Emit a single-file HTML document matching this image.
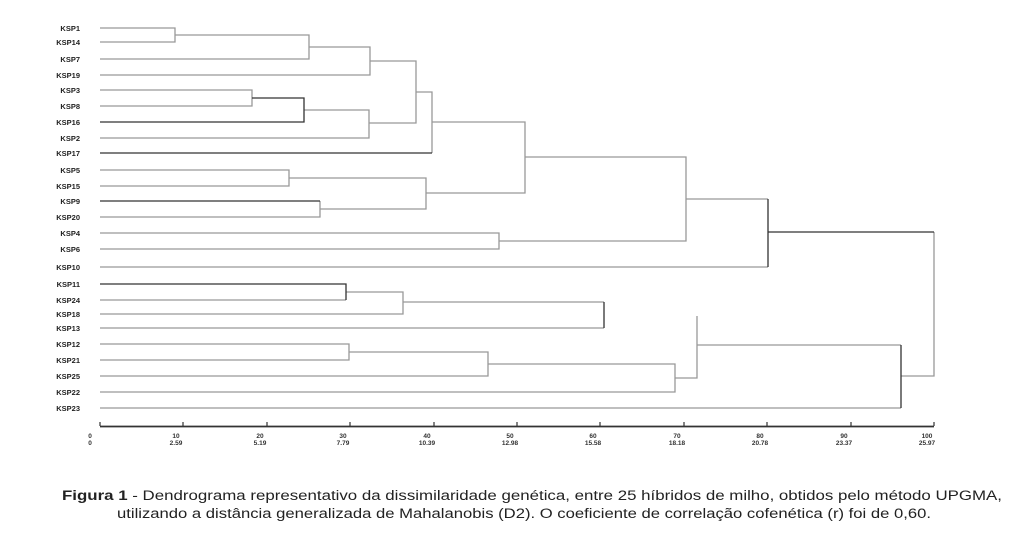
<!DOCTYPE html>
<html><head><meta charset="utf-8"><style>
html,body{margin:0;padding:0;background:#fff;}
svg{display:block}
</style></head><body>
<svg width="1020" height="537" viewBox="0 0 1020 537" xmlns="http://www.w3.org/2000/svg">
<g font-family="Liberation Sans, sans-serif" font-size="7.5" font-weight="bold" fill="#222" text-anchor="end">
<text x="80" y="31">KSP1</text>
<text x="80" y="45">KSP14</text>
<text x="80" y="62">KSP7</text>
<text x="80" y="78">KSP19</text>
<text x="80" y="93">KSP3</text>
<text x="80" y="109">KSP8</text>
<text x="80" y="125">KSP16</text>
<text x="80" y="141">KSP2</text>
<text x="80" y="156">KSP17</text>
<text x="80" y="173">KSP5</text>
<text x="80" y="189">KSP15</text>
<text x="80" y="204">KSP9</text>
<text x="80" y="220">KSP20</text>
<text x="80" y="236">KSP4</text>
<text x="80" y="252">KSP6</text>
<text x="80" y="270">KSP10</text>
<text x="80" y="287">KSP11</text>
<text x="80" y="303">KSP24</text>
<text x="80" y="317">KSP18</text>
<text x="80" y="331">KSP13</text>
<text x="80" y="347">KSP12</text>
<text x="80" y="363">KSP21</text>
<text x="80" y="379">KSP25</text>
<text x="80" y="395">KSP22</text>
<text x="80" y="411">KSP23</text>
</g>
<g stroke="#999" stroke-width="1.3" fill="none">
<path d="M100 28H175V42H100"/>
<path d="M175 35H309V59H100"/>
<path d="M309 47H370V75H100"/>
<path d="M100 90H252V106H100"/>
<path d="M304 110H369V138H100"/>
<path d="M370 61H416V123H369"/>
<path d="M416 92H432V153"/>
<path d="M100 170H289V186H100"/>
<path d="M320 201V217H100"/>
<path d="M289 178H426V209H320"/>
<path d="M432 122H525V193H426"/>
<path d="M100 233H499V249H100"/>
<path d="M525 157H686V241H499"/>
<path d="M686 199H768"/>
<path d="M768 267H100"/>
<path d="M934 232V376H901"/>
<path d="M346 300H100"/>
<path d="M346 292H403V314H100"/>
<path d="M403 302H604"/>
<path d="M604 328H100"/>
<path d="M100 344H349V360H100"/>
<path d="M349 352H488V376H100"/>
<path d="M488 364H675V392H100"/>
<path d="M675 378H697V316"/>
<path d="M697 345H901"/>
<path d="M901 408H100"/>
</g>
<g stroke="#333" stroke-width="1.3" fill="none">
<path d="M252 98H304V122H100"/>
<path d="M432 153H100"/>
<path d="M100 201H320"/>
<path d="M768 199V267"/>
<path d="M768 232H934"/>
<path d="M100 284H346V300"/>
<path d="M604 302V328"/>
<path d="M901 345V408"/>
</g>
<g stroke="#333" stroke-width="1.2"><path d="M100 426.5H934" stroke-width="1.8"/>
<path d="M100 422V426M183 422V426M267 422V426M350 422V426M434 422V426M517 422V426M600 422V426M684 422V426M767 422V426M851 422V426M934 422V426"/></g>
<g font-family="Liberation Sans, sans-serif" font-size="6.5" font-weight="bold" fill="#333" text-anchor="middle">
<text x="90" y="438">0</text><text x="90" y="445">0</text>
<text x="176" y="438">10</text><text x="176" y="445">2.59</text>
<text x="260" y="438">20</text><text x="260" y="445">5.19</text>
<text x="343" y="438">30</text><text x="343" y="445">7.79</text>
<text x="427" y="438">40</text><text x="427" y="445">10.39</text>
<text x="510" y="438">50</text><text x="510" y="445">12.98</text>
<text x="593" y="438">60</text><text x="593" y="445">15.58</text>
<text x="677" y="438">70</text><text x="677" y="445">18.18</text>
<text x="760" y="438">80</text><text x="760" y="445">20.78</text>
<text x="844" y="438">90</text><text x="844" y="445">23.37</text>
<text x="927" y="438">100</text><text x="927" y="445">25.97</text>
</g>
<g font-family="Liberation Sans, sans-serif" font-size="13.5" fill="#222">
<text x="62" y="500" textLength="940" lengthAdjust="spacingAndGlyphs"><tspan font-weight="bold">Figura 1</tspan> - Dendrograma representativo da dissimilaridade genética, entre 25 híbridos de milho, obtidos pelo método UPGMA,</text>
<text x="117" y="518" textLength="814" lengthAdjust="spacingAndGlyphs">utilizando a distância generalizada de Mahalanobis (D2). O coeficiente de correlação cofenética (r) foi de 0,60.</text>
</g>
</svg>
</body></html>
